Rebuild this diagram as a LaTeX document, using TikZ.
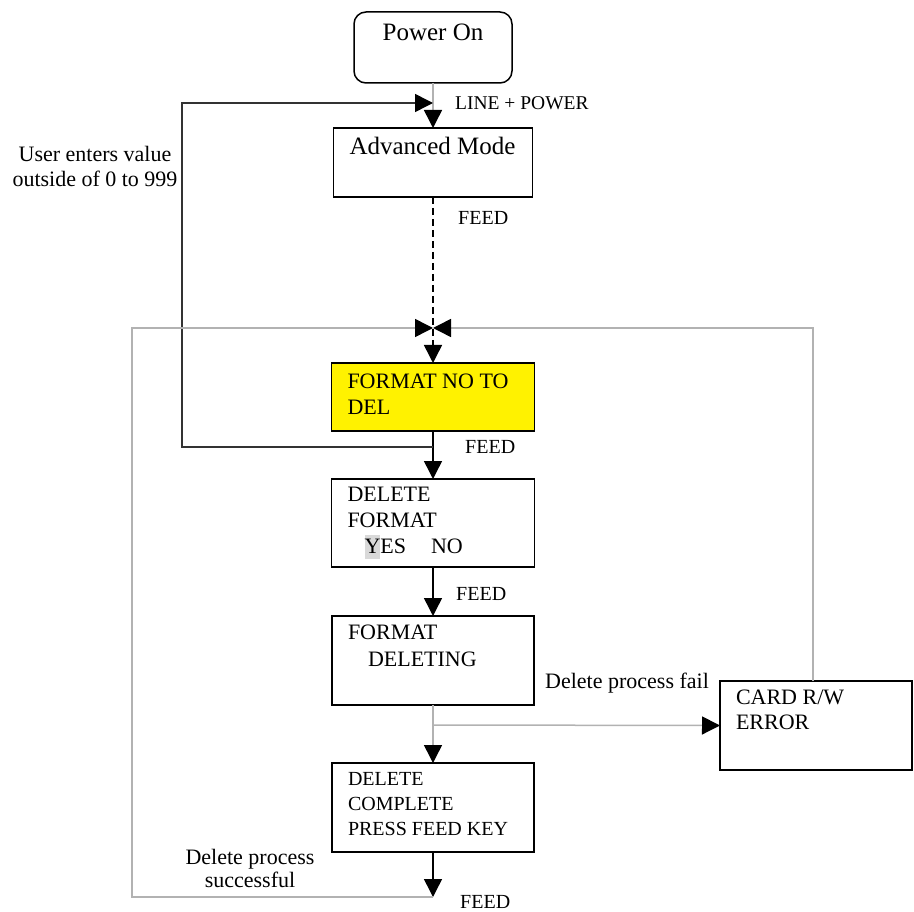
\documentclass[tikz,border=0pt]{standalone}
\usepackage{fontspec}
\setmainfont{Liberation Serif}
\usetikzlibrary{arrows.meta, positioning}

% box text: width, height, first baseline, lines
\newcommand{\boxtext}[4]{\parbox[c][#2][t]{#1}{\leftskip=16pt\rule{0pt}{#3}#4}}

\begin{document}
\begin{tikzpicture}[
    x=1pt, y=-1pt,
    box/.style={rectangle, draw, line width=1.5pt, inner sep=0pt, outer sep=0pt, anchor=north west, font=\fontsize{22}{26}\selectfont},
    bigbox/.style={box, font=\fontsize{25}{27}\selectfont},
    lbl/.style={inner sep=0pt, font=\fontsize{22}{23}\selectfont, align=center},
    feed/.style={inner sep=0pt, anchor=west, font=\fontsize{20}{22}\selectfont},
    link/.style={-{Triangle[length=18pt, width=18pt, color=black]}, line width=1.5pt},
    greylink/.style={link, draw=gray!60},
    darklink/.style={link, draw=gray!40!black}
]
\useasboundingbox (0,0) rectangle (914,912);

% main column
\node[bigbox, rounded corners=12pt] (pwr) at (354,12) {\boxtext{158pt}{71pt}{29pt}{\centering Power On}};
\node[bigbox, below=45pt of pwr] (adv) {\boxtext{199pt}{69pt}{27pt}{Advanced Mode}};
\node[box, fill=yellow, below=166pt of adv] (fmt) {\boxtext{203pt}{68pt}{25pt}{FORMAT NO TO\\DEL}};
\node[box, below=48pt of fmt] (delfmt) {\boxtext{203pt}{88pt}{22pt}{DELETE\\FORMAT\\\hspace*{17pt}{\fboxsep=0pt\colorbox{black!15}{\rule[-6pt]{0pt}{24pt}Y}}ES\hspace{25pt}NO}};
\node[box, below=49pt of delfmt] (deleting) {\boxtext{202pt}{89pt}{23pt}{FORMAT\\[1pt]\hspace*{20pt}DELETING}};
\node[box, font=\fontsize{20}{25}\selectfont, below=58pt of deleting] (done) {\boxtext{202pt}{89pt}{22pt}{DELETE\\COMPLETE\\PRESS FEED KEY}};
\node[box, below right=-24pt and 186pt of deleting.south east] (rwerr) {\boxtext{192pt}{89pt}{23pt}{CARD R/W\\[-1pt]ERROR}};

% junctions
\coordinate[below=20pt of pwr.south] (topjoin);
\coordinate[below=131pt of adv.south] (midjoin);
\coordinate[below=16pt of fmt.south] (feedjoin);
\coordinate[below=20pt of deleting.south] (failjoin);
\coordinate[below=45pt of done.south] (endpt);
\coordinate[left=251pt of topjoin] (usercorner);
\coordinate[left=301pt of endpt] (succcorner);

% connectors
\draw[greylink] (pwr) -- (adv);
\draw[link, dash pattern=on 7pt off 4pt] (adv.south) -- (fmt.north);
\draw[link] (fmt) -- (delfmt);
\draw[link] (delfmt) -- (deleting);
\draw[greylink] (deleting) -- (done);
\draw[link] (done) -- (endpt);
\draw[greylink] (failjoin) -- (rwerr.west);
\draw[darklink] (feedjoin) -| (usercorner) -- (topjoin);
\draw[greylink] (endpt) -- (succcorner) |- (midjoin);
\draw[greylink] ([xshift=-3pt]rwerr.north) |- (midjoin);

% labels
\node[feed, font=\fontsize{19.5}{22}\selectfont, right=22pt of topjoin] (linepower) {LINE + POWER};
\node[feed] (feedadv) at ([shift={(25,21)}]adv.south) {FEED};
\node[feed, right=32pt of feedjoin] (feedfmt) {FEED};
\node[feed] (feeddel) at ([shift={(23,27)}]delfmt.south) {FEED};
\node[feed] (feedend) at ([shift={(27,5)}]endpt) {FEED};
\node[lbl, anchor=west] (faillbl) at ([shift={(112,-42)}]failjoin) {Delete process fail};
\node[lbl] (succlbl) at ([shift={(118,-29)}]succcorner) {Delete process\\successful};
\node[lbl, font=\fontsize{22}{25}\selectfont] (userlbl) at ([shift={(-87,63)}]usercorner) {User enters value\\outside of 0 to 999};

\end{tikzpicture}
\end{document}
